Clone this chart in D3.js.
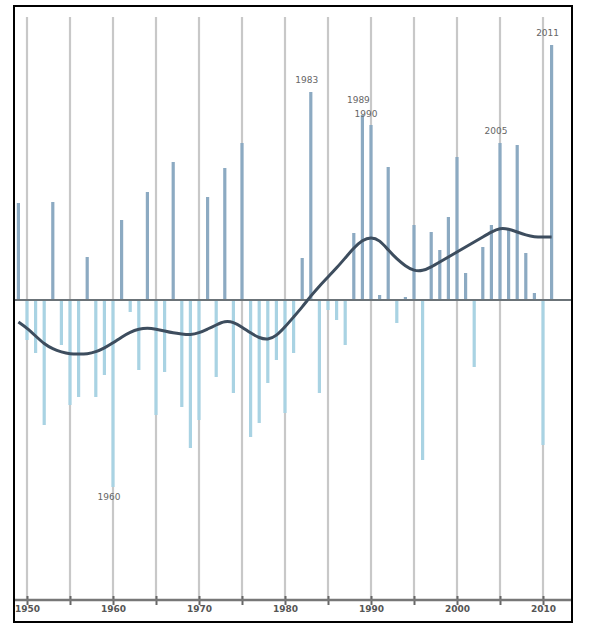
<!DOCTYPE html>
<html><head><meta charset="utf-8">
<script src="https://cdn.jsdelivr.net/npm/d3@7/dist/d3.min.js"></script>
<style>body{margin:0;background:#fff;font-family:"DejaVu Sans",sans-serif}</style>
</head><body><svg id="c" width="589" height="626"></svg>
<script>
const years = d3.range(1949, 2012);
const values = [0.97,-0.40,-0.53,-1.25,0.98,-0.45,-1.05,-0.97,0.43,-0.97,-0.75,-1.87,0.80,-0.12,-0.70,1.08,-1.15,-0.72,1.38,-1.07,-1.48,-1.20,1.03,-0.77,1.32,-0.93,1.57,-1.37,-1.23,-0.83,-0.60,-1.13,-0.53,0.42,2.08,-0.93,-0.10,-0.20,-0.45,0.67,1.85,1.75,0.05,1.33,-0.23,0.03,0.75,-1.60,0.68,0.50,0.83,1.43,0.27,-0.67,0.53,0.75,1.57,0.70,1.55,0.47,0.07,-1.45,2.55];
const smooth = [-0.22,-0.28,-0.36,-0.44,-0.49,-0.52,-0.54,-0.54,-0.54,-0.52,-0.48,-0.43,-0.37,-0.32,-0.29,-0.28,-0.29,-0.31,-0.33,-0.34,-0.35,-0.33,-0.29,-0.25,-0.21,-0.22,-0.27,-0.33,-0.38,-0.40,-0.36,-0.27,-0.17,-0.07,0.04,0.14,0.23,0.32,0.42,0.52,0.60,0.63,0.60,0.50,0.41,0.34,0.29,0.29,0.33,0.38,0.43,0.48,0.53,0.58,0.63,0.68,0.72,0.71,0.68,0.65,0.63,0.63,0.63];
const gridYears = d3.range(1950, 2011, 5);
const tickLabels = ["1950","1960","1970","1980","1990","2000","2010"];
const labelYears = [1960, 1983, 1989, 1990, 2005, 2011];

const svg = d3.select("#c");
const x = d3.scaleLinear().domain([1950, 2010]).range([27, 543]);
const y = d3.scaleLinear().domain([-3, 2.8]).range([600, 20]);

// grid lines
svg.append("g").selectAll("line").data(gridYears).join("line")
  .attr("x1", d => x(d)).attr("x2", d => x(d))
  .attr("y1", 17).attr("y2", 600)
  .attr("stroke", "#c8c8c8").attr("stroke-width", 2.2);

// bars
const data = years.map((yr, i) => ({yr, v: values[i]}));
svg.append("g").selectAll("rect").data(data).join("rect")
  .attr("x", d => x(d.yr) - 1.6).attr("width", 3.2)
  .attr("y", d => d.v >= 0 ? y(d.v) : y(0))
  .attr("height", d => Math.abs(y(d.v) - y(0)))
  .attr("fill", d => d.v >= 0 ? "#8caac2" : "#a9d3e3");

// zero line
svg.append("line").attr("x1", 15).attr("x2", 571)
  .attr("y1", y(0)).attr("y2", y(0))
  .attr("stroke", "#6b7378").attr("stroke-width", 2);

// smooth curve
const line = d3.line().x((d, i) => x(years[i])).y(d => y(d)).curve(d3.curveBasis);
svg.append("path").attr("d", line(smooth)).attr("fill", "none")
  .attr("stroke", "#3d4d5e").attr("stroke-width", 3);

// axis
const axG = svg.append("g").attr("transform", `translate(0,${y(-3)})`)
  .call(d3.axisBottom(x).tickValues(gridYears).tickSize(5).tickFormat(""));
axG.select(".domain").remove();
axG.selectAll(".tick line").attr("stroke", "#666").attr("stroke-width", 2).attr("y1", -4);
svg.append("line").attr("x1", 15).attr("x2", 571).attr("y1", y(-3)).attr("y2", y(-3))
  .attr("stroke", "#777").attr("stroke-width", 2.5);
const lab = svg.append("g").attr("transform", `translate(0,${y(-3)})`)
  .call(d3.axisBottom(x).tickValues(tickLabels.map(Number)).tickSize(0).tickPadding(6).tickFormat((d, i) => tickLabels[i]));
lab.select(".domain").remove();
lab.selectAll("text").attr("font-size", 9).attr("font-weight", "bold").attr("fill", "#555").attr("font-family", "DejaVu Sans");

// bar labels
const lbl = svg.append("g");
labelYears.forEach(yr => {
  const v = values[years.indexOf(yr)];
  let dx = -4, dy = v >= 0 ? -9 : 13;
  if (yr === 1990) { dx = -5; dy = -8; }
  if (yr === 1989) { dx = -4; dy = -12; }
  lbl.append("text").attr("x", x(yr) + dx).attr("y", y(v) + dy)
    .attr("text-anchor", "middle").attr("font-size", 9).attr("fill", "#666")
    .attr("font-family", "DejaVu Sans").text(yr);
});

// frame
svg.append("rect").attr("x", 14).attr("y", 6).attr("width", 558).attr("height", 616)
  .attr("fill", "none").attr("stroke", "#000").attr("stroke-width", 2);
</script></body></html>
